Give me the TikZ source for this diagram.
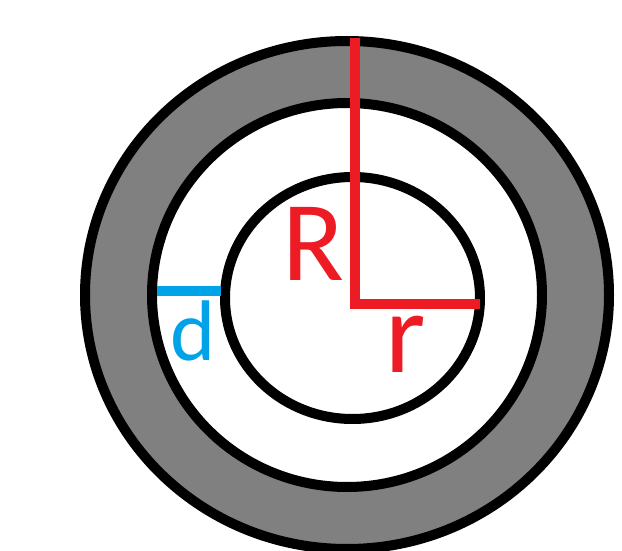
\documentclass[tikz,border=0pt]{standalone}
\usepackage{fontspec}
\setmainfont{Carlito}
\usepackage{tikz}
\definecolor{paintred}{HTML}{ED1C24}
\definecolor{paintblue}{HTML}{00A2E8}
\definecolor{ringgray}{HTML}{808080}
\tikzset{
  rim/.style={draw=black, line width=10pt},
  lbl/.style={inner sep=0pt, anchor=center}
}

\begin{document}
\begin{tikzpicture}[x=1pt, y=-1pt]
  \useasboundingbox (0,0) rectangle (622,551);
  \clip (0,0) rectangle (622,551);
  \coordinate (c) at (347,295);
  \coordinate (ci) at (352.5,298);
  \fill[ringgray, even odd rule] (c) ellipse [x radius=262, y radius=254] (c) ellipse [x radius=195, y radius=192];
  \draw[rim] (c) ellipse [x radius=262, y radius=254];
  \draw[rim] (c) ellipse [x radius=195, y radius=192];
  \draw[rim] (ci) ellipse [x radius=127.5, y radius=121];
  % radii
  \coordinate (rtop) at (355,38);
  \coordinate (rcorner) at (355,304);
  \coordinate (rend) at (480,304);
  \draw[paintred, line width=10pt] (rtop) -- (rcorner) -- (rend);
  \coordinate (dleft) at (157,291);
  \coordinate (dright) at (221,291);
  \draw[paintblue, line width=10pt] (dleft) -- (dright);
  \node[lbl, text=paintred] (bigR) at (313,244) {\fontsize{114}{114}\selectfont R};
  \node[lbl, text=paintred] (smallr) at (406,344) {\fontsize{116}{116}\selectfont r};
  \node[lbl, text=paintblue] (dlabel) at (193,331) {\fontsize{86}{86}\selectfont d};
\end{tikzpicture}
\end{document}
